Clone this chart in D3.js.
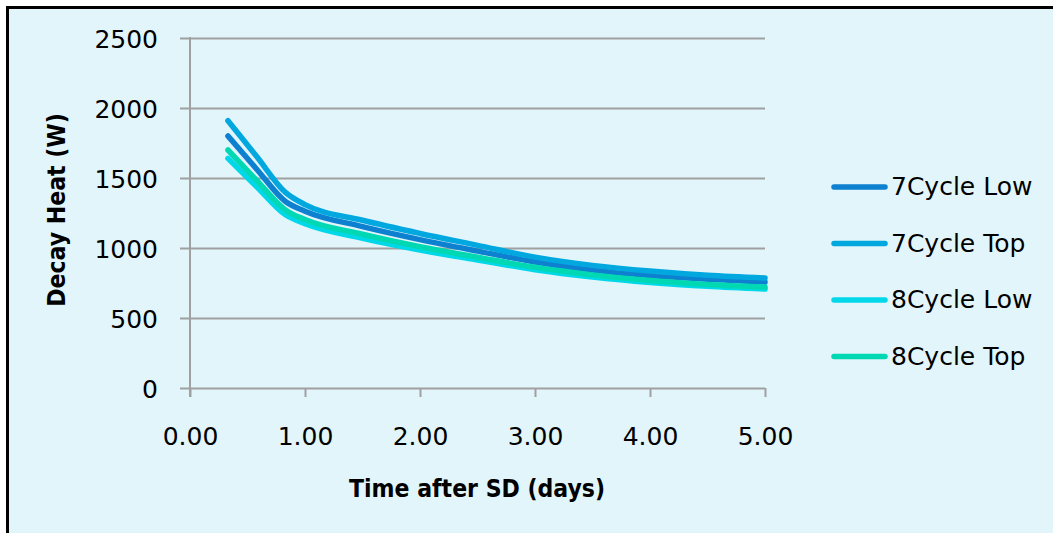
<!DOCTYPE html>
<html>
<head>
<meta charset="utf-8">
<script src="https://cdn.jsdelivr.net/npm/d3@7/dist/d3.min.js"></script>
<style>
  html, body { margin: 0; padding: 0; background: #ffffff; overflow: hidden; }
  svg { display: block; overflow: hidden; }
</style>
</head>
<body>
<svg id="chart" width="1053" height="533"></svg>
<script>
// ---- data ----
const days      = [0.33, 0.58, 0.83, 1.0, 1.5, 2, 2.5, 3, 3.5, 4, 4.5, 5];
const cycle7Low = [1800, 1563, 1332, 1263, 1153, 1060, 978, 900, 842, 803, 776, 757];
const cycle7Top = [1909, 1653, 1397, 1310, 1198, 1104, 1019, 935, 876, 835, 805, 786];
const cycle8Low = [1640, 1438, 1237, 1174, 1070, 986, 914, 845, 793, 754, 726, 707];
const cycle8Top = [1700, 1483, 1272, 1203, 1098, 1009, 934, 862, 808, 768, 740, 721];
const seriesNames = ["7Cycle Low", "7Cycle Top", "8Cycle Low", "8Cycle Top"];
const seriesColors = ["#0d80cf", "#00a8df", "#00d8ea", "#00d8b4"];
const xTicks = [0, 1, 2, 3, 4, 5];
const yTicks = [0, 500, 1000, 1500, 2000, 2500];

const seriesValues = [cycle7Low, cycle7Top, cycle8Low, cycle8Top];

const svg = d3.select("#chart");
const font = "'DejaVu Sans', Verdana, sans-serif";
const titleFont = "'DejaVu Sans Condensed', 'DejaVu Sans', sans-serif";

// frame / background
svg.append("rect")
  .attr("x", 7.5).attr("y", 7.5)
  .attr("width", 2000).attr("height", 2000)
  .attr("fill", "#e2f5fa")
  .attr("stroke", "#000").attr("stroke-width", 3);

const x = d3.scaleLinear().domain([0, 5]).range([190, 765]);
const y = d3.scaleLinear().domain([0, 2500]).range([388, 38]);

const gridColor = "#a0a0a0";

// horizontal gridlines (with left tick extension)
const yAxis = d3.axisLeft(y).tickValues(yTicks).tickSize(0).tickFormat(d3.format("d"));
const gy = svg.append("g").attr("transform", "translate(190,0)");
gy.call(yAxis);
gy.select(".domain").remove();
gy.selectAll(".tick line").remove();
gy.selectAll(".tick").append("line")
  .attr("x1", -10).attr("x2", 575)
  .attr("stroke", gridColor).attr("stroke-width", 2);
gy.selectAll(".tick text")
  .attr("x", -32)
  .attr("dy", "0.36em")
  .attr("fill", "#000")
  .style("font-family", font)
  .style("font-size", "25px");

// x axis
const xAxis = d3.axisBottom(x).tickValues(xTicks).tickSize(9).tickFormat(d3.format(".2f"));
const gx = svg.append("g").attr("transform", "translate(0,388)");
gx.call(xAxis);
gx.select(".domain").remove();
gx.selectAll(".tick line").attr("stroke", gridColor).attr("stroke-width", 2);
gx.selectAll(".tick text")
  .attr("y", 57)
  .attr("dy", 0)
  .attr("fill", "#000")
  .style("font-family", font)
  .style("font-size", "25px");

// vertical axis line
svg.append("line")
  .attr("x1", x(0)).attr("x2", x(0))
  .attr("y1", y(2500) - 1).attr("y2", y(0) + 9)
  .attr("stroke", gridColor).attr("stroke-width", 2);

// lines
const line = d3.line()
  .x((d, i) => x(days[i]))
  .y(d => y(d))
  .curve(d3.curveMonotoneX);

seriesValues.forEach((vals, i) => {
  svg.append("path")
    .attr("d", line(vals))
    .attr("fill", "none")
    .attr("stroke", seriesColors[i])
    .attr("stroke-width", 5.5)
    .attr("stroke-linecap", "round")
    .attr("stroke-linejoin", "round");
});

// legend
const legend = svg.append("g");
seriesNames.forEach((name, i) => {
  const ly = 187 + i * 56.5;
  legend.append("line")
    .attr("x1", 834).attr("x2", 885)
    .attr("y1", ly).attr("y2", ly)
    .attr("stroke", seriesColors[i])
    .attr("stroke-width", 5.5)
    .attr("stroke-linecap", "round");
  legend.append("text")
    .attr("x", 891).attr("y", ly + 8)
    .attr("fill", "#000")
    .style("font-family", font)
    .style("font-size", "25px")
    .text(name);
});

// axis titles
svg.append("text")
  .attr("x", 477).attr("y", 497)
  .attr("text-anchor", "middle")
  .attr("fill", "#000")
  .style("font-family", titleFont)
  .style("font-weight", "bold")
  .style("font-size", "24.5px")
  .text("Time after SD (days)");

svg.append("text")
  .attr("transform", "translate(65,210) rotate(-90)")
  .attr("text-anchor", "middle")
  .attr("fill", "#000")
  .style("font-family", titleFont)
  .style("font-weight", "bold")
  .style("font-size", "24.5px")
  .text("Decay Heat (W)");
</script>
</body>
</html>
